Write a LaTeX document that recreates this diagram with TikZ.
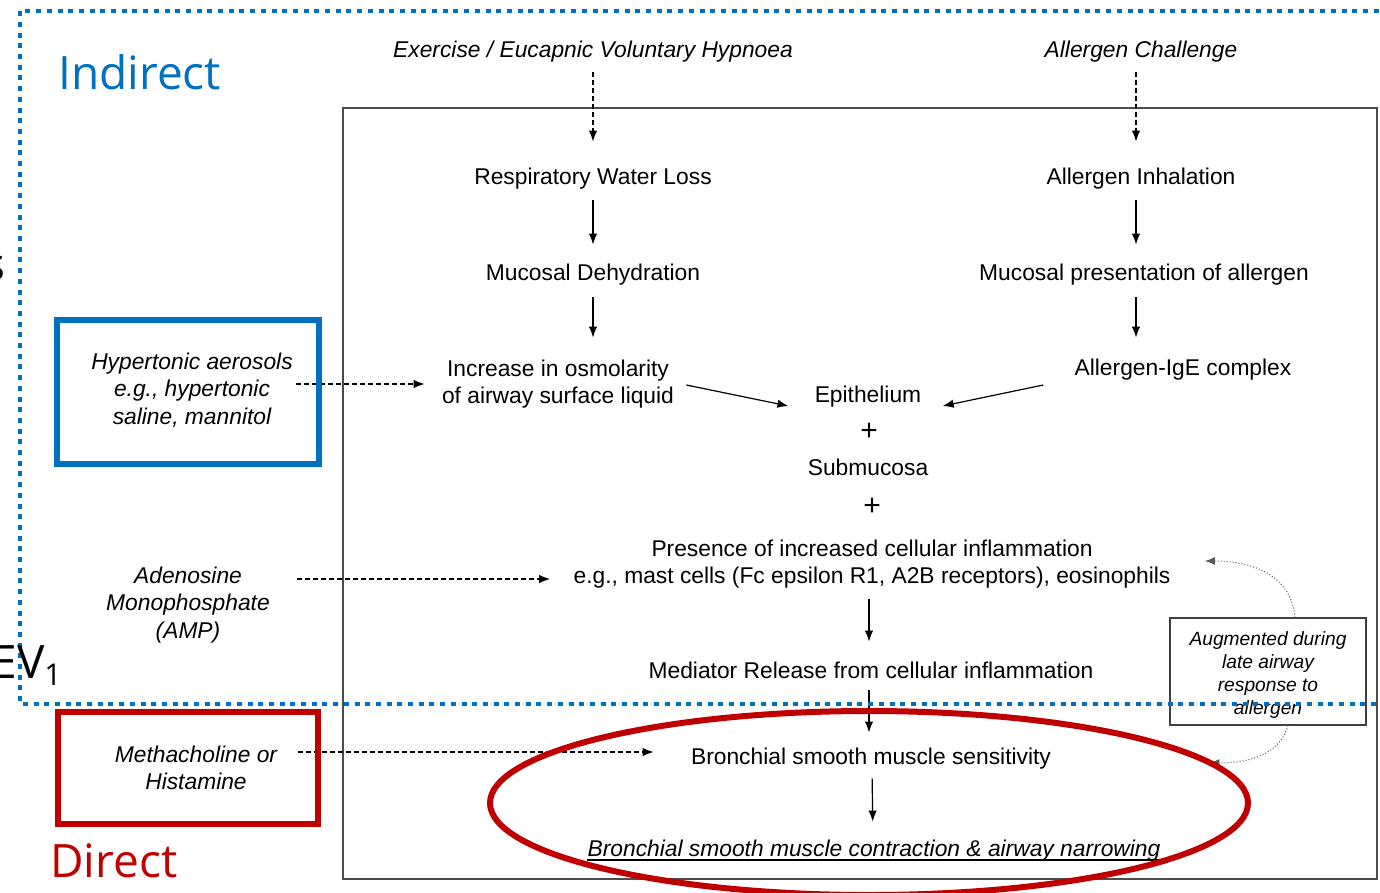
\documentclass[tikz,border=0pt]{standalone}
\usepackage{fontspec}
\setmainfont{Liberation Sans}
\newfontfamily\segoe{Open Sans}
\usetikzlibrary{arrows.meta,calc}
\definecolor{msblue}{HTML}{0070C0}
\definecolor{msred}{HTML}{C00000}
\begin{document}
\begin{tikzpicture}[x=0.5pt,y=-0.5pt,
  txt/.style={inner sep=0pt, font=\fontsize{11.4}{13.8}\selectfont, text height=8.2pt, text depth=2.4pt},
  itx/.style={txt, font=\fontsize{11.4}{13.8}\selectfont\itshape},
  mtx/.style={inner sep=0pt, align=center, font=\fontsize{11.4}{13.8}\selectfont},
  mit/.style={mtx, font=\fontsize{11.4}{13.8}\selectfont\itshape},
  plus/.style={inner sep=0pt, font=\fontsize{15}{15}\selectfont},
  big/.style={inner sep=0pt, font=\segoe\fontsize{23}{28}\selectfont},
  arr/.style={-{Latex[length=5.5pt,width=4.2pt]}, line width=0.6pt},
  darr/.style={arr, dash pattern=on 2.5pt off 1.5pt},
  dotarr/.style={-{Latex[length=5pt,width=4pt]}, densely dotted, line width=0.5pt, black!65},
  frame/.style={draw=black!70, line width=0.75pt},
]
\useasboundingbox (0,0) rectangle (1380,893);
\fill[white] (0,0) rectangle (1380,893);
\draw[frame] (343,108) rectangle (1377,879);

\coordinate (lc) at (593,0);
\coordinate (rc) at (1136,0);

\node[itx] (ex) at (593,52) {Exercise / Eucapnic Voluntary Hypnoea};
\node[itx] (ac) at (1141,52) {Allergen Challenge};
\node[txt] (rwl) at (593,179) {Respiratory Water Loss};
\node[txt] (ai) at (1141,179) {Allergen Inhalation};
\node[txt] (md) at (593,275) {Mucosal Dehydration};
\node[txt] (mpa) at (1144,275) {Mucosal presentation of allergen};
\node[mtx] (osm) at (558,384) {Increase in osmolarity\\of airway surface liquid};
\node[txt] (ige) at (1183,370) {Allergen-IgE complex};
\node[txt] (epi) at (868,397) {Epithelium};
\node[plus] (p1) at (869,432) {+};
\node[txt] (sub) at (868,470) {Submucosa};
\node[plus] (p2) at (872,507) {+};
\node[mtx] (pres) at (872,564) {Presence of increased cellular inflammation\\e.g., mast cells (Fc epsilon R1, A2B receptors), eosinophils};
\node[txt] (med) at (871,673) {Mediator Release from cellular inflammation};
\node[txt] (bsms) at (871,759) {Bronchial smooth muscle sensitivity};
\node[itx] (bsmc) at (874,851) {Bronchial smooth muscle contraction \& airway narrowing};
\draw[line width=1pt] ([yshift=-1.6pt]bsmc.base west) -- ([yshift=-1.6pt]bsmc.base east);

\node[mit] (hyp) at (192,390) {Hypertonic aerosols\\e.g., hypertonic\\saline, mannitol};
\node[mit] (amp) at (188,605) {Adenosine\\Monophosphate\\(AMP)};
\node[mit] (meth) at (196,768) {Methacholine or\\Histamine};

\node[draw=black!75, line width=0.6pt, minimum width=98pt, minimum height=53.5pt, inner sep=0pt] (aug) at (1268,671.5) {};
\node[inner sep=0pt, align=center, font=\fontsize{9.6}{11.5}\selectfont\itshape] (augt) at (1268,675.5) {Augmented during\\late airway\\response to\\allergen};

% vertical flow arrows
\draw[darr, shorten <=4.7pt, shorten >=13.2pt] (ex.south -| lc) -- (rwl.north -| lc);
\draw[darr, shorten <=4.7pt, shorten >=13.2pt] (ac.south -| rc) -- (ai.north -| rc);
\draw[arr, shorten <=5.2pt, shorten >=9.7pt] (rwl.south -| lc) -- (md.north -| lc);
\draw[arr, shorten <=5.2pt, shorten >=9.7pt] (ai.south -| rc) -- (mpa.north -| rc);
\draw[arr, shorten <=5.7pt, shorten >=10.8pt] (md.south -| lc) -- (osm.north -| lc);
\draw[arr, shorten <=5.7pt, shorten >=10.7pt] (mpa.south -| rc) -- (ige.north -| rc);
\draw[arr] ($(osm.east)+(12,1)$) -- ($(epi.west)+(-26,9)$);
\draw[arr] ($(ige.west)+(-31,15)$) -- ($(epi.east)+(21,9)$);
\draw[arr, shorten <=4.85pt, shorten >=10.2pt] ([xshift=-1.5pt]pres.south) -- ([xshift=-1pt]med.north);
\draw[arr, shorten <=3.2pt, shorten >=7.7pt] ([xshift=-1pt]med.south) -- ([xshift=-1pt]bsms.north);
\draw[arr, shorten <=4.2pt, shorten >=9.2pt] ([xshift=0.5pt]bsms.south) -- ([xshift=-0.5pt]bsmc.north);

% dashed inputs
\draw[darr] ($(hyp.east)+(3,-6)$) -- ($(osm.west)+(-17,0)$);
\draw[darr] ($(amp.east)+(27,-26)$) -- ($(pres.west)+(-23,15)$);
\draw[darr] ($(meth.east)+(20,-16)$) -- ($(bsms.west)+(-37,-7)$);

% dotted curved arrows
\draw[dotarr] ($(aug.north)+(27,0)$) .. controls +(-4,-44) and +(45,0) .. ($(pres.east)+(34,-3)$);
\draw[dotarr] ($(aug.south)+(20,0)$) .. controls +(-8,28) and +(42,0) .. ($(bsms.east)+(158,4)$);

% highlight boxes
\draw[msblue, line width=2.6pt] (57,320) rectangle (319,464);
\draw[msred, line width=3pt] (58,712) rectangle (318,824);
\draw[msred, line width=3pt] (869,803) ellipse [x radius=189.5pt, y radius=46pt];
\draw[msblue, line width=2.4pt, dash pattern=on 2.5pt off 2.85pt] (1400,11) -- (20,11) -- (20,704) -- (1400,704);

\node[big, text=msblue, anchor=base west] (ind) at (58,90) {Indirect};
\node[big, text=msred, anchor=base west] (dir) at (50,877) {Direct};
\node[big, anchor=base east] (s) at (6,280) {s};
\node[big, anchor=base east] (fev) at (62,678) {FEV{\fontsize{15}{15}\selectfont\raisebox{-3.5pt}{1}}};
\end{tikzpicture}
\end{document}
